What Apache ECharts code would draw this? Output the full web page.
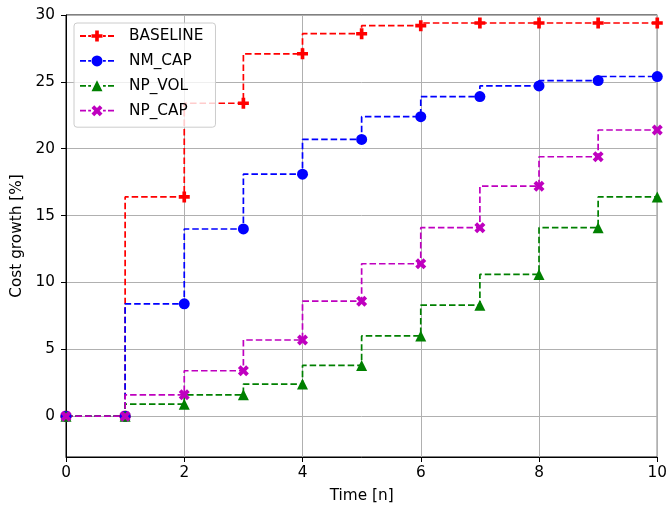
<!DOCTYPE html>
<html>
<head>
<meta charset="utf-8">
<script src="https://cdn.jsdelivr.net/npm/echarts@6/dist/echarts.min.js"></script>
<style>html,body{margin:0;padding:0;background:#fff}#c{width:670px;height:509px}</style>
</head>
<body>
<div id="c"></div>
<script>
const timeSteps = [0,1,2,3,4,5,6,7,8,9,10];
const seriesNames = ['BASELINE','NM_CAP','NP_VOL','NP_CAP'];
const baseline = [0,0,16.4,23.4,27.1,28.6,29.2,29.4,29.4,29.4,29.4];
const nmCap = [0,0,8.4,14.0,18.1,20.7,22.4,23.9,24.7,25.1,25.4];
const npVol = [0,0,0.9,1.6,2.4,3.8,6.0,8.3,10.6,14.1,16.4];
const npCap = [0,0,1.6,3.4,5.7,8.6,11.4,14.1,17.2,19.4,21.4];
const yTicks = [0,5,10,15,20,25,30];
const xTicks = [0,2,4,6,8,10];

const colors = ['#ff0000','#0000ff','#008000','#bf00bf'];
const plusSym = 'path://M-1,-3H1V-1H3V1H1V3H-1V1H-3V-1H-1Z';
const xSym = 'path://M2,-4L4,-2L2,0L4,2L2,4L0,2L-2,4L-4,2L-2,0L-4,-2L-2,-4L0,-2Z';
const symbols = [plusSym,'circle','triangle',xSym];
const dashes = 'M0,4.6H6V6.4H0Z M8.2,4.6H11V6.4H8.2Z M23,4.6H25.8V6.4H23Z M28,4.6H34V6.4H28Z ';
const legendMarkers = [
  'M15.17,0H18.83V3.67H22.5V7.33H18.83V11H15.17V7.33H11.5V3.67H15.17Z',
  'M11.5,5.5A5.5,5.5 0 1 1 22.5,5.5A5.5,5.5 0 1 1 11.5,5.5Z',
  'M17,0L22.5,11L11.5,11Z',
  'M19.75,0L22.5,2.75L19.75,5.5L22.5,8.25L19.75,11L17,8.25L14.25,11L11.5,8.25L14.25,5.5L11.5,2.75L14.25,0L17,2.75Z'
];
const values = [baseline,nmCap,npVol,npCap];

const chart = echarts.init(document.getElementById('c'), null, {renderer:'canvas'});
const font = 'DejaVu Sans';
const fs = 15.3;
chart.setOption({
  animation:false,
  backgroundColor:'#fff',
  grid:{left:66,right:12,top:15,bottom:52,show:true,borderColor:'#000',borderWidth:1,backgroundColor:'transparent'},
  legend:{
    orient:'vertical',left:74,top:23,
    itemWidth:34,itemHeight:11,itemGap:9.9,
    padding:[5.5,12,9,6],
    backgroundColor:'rgba(255,255,255,0.8)',borderColor:'#cccccc',borderWidth:1,borderRadius:3,
    textStyle:{fontFamily:font,fontSize:fs,color:'#000',padding:[0,0,0,10]},
    data:seriesNames.map((n,i)=>({name:n,icon:'path://'+dashes+legendMarkers[i],itemStyle:{color:colors[i]}}))
  },
  xAxis:{
    type:'value',min:0,max:10,interval:2,
    name:'Time [n]',nameLocation:'middle',nameGap:32,
    nameTextStyle:{fontFamily:font,fontSize:fs,color:'#000'},
    axisLine:{show:true,onZero:false,lineStyle:{color:'#000',width:1}},
    axisTick:{show:true,length:5,lineStyle:{color:'#000',width:1}},
    axisLabel:{fontFamily:font,fontSize:fs,color:'#000',margin:9,customValues:xTicks},
    splitLine:{show:true,lineStyle:{color:'#b0b0b0',width:1}}
  },
  yAxis:{
    type:'value',min:-3.05,max:30,
    name:'Cost growth [%]',nameLocation:'middle',nameGap:41,
    nameTextStyle:{fontFamily:font,fontSize:fs,color:'#000'},
    axisLine:{show:true,onZero:false,lineStyle:{color:'#000',width:1}},
    axisTick:{show:true,length:5,lineStyle:{color:'#000',width:1},customValues:yTicks},
    axisLabel:{fontFamily:font,fontSize:fs,color:'#000',margin:11,customValues:yTicks},
    splitLine:{show:true,lineStyle:{color:'#b0b0b0',width:1}}
  },
  series:seriesNames.map((n,i)=>({
    name:n,type:'line',step:'start',
    data:timeSteps.map((t,j)=>[t,values[i][j]]),
    symbol:symbols[i],symbolSize:11,showAllSymbol:true,clip:true,
    itemStyle:{color:colors[i]},
    lineStyle:{color:colors[i],width:1.7,type:[6.5,3]},
    emphasis:{disabled:true}
  }))
});
</script>
</body>
</html>
